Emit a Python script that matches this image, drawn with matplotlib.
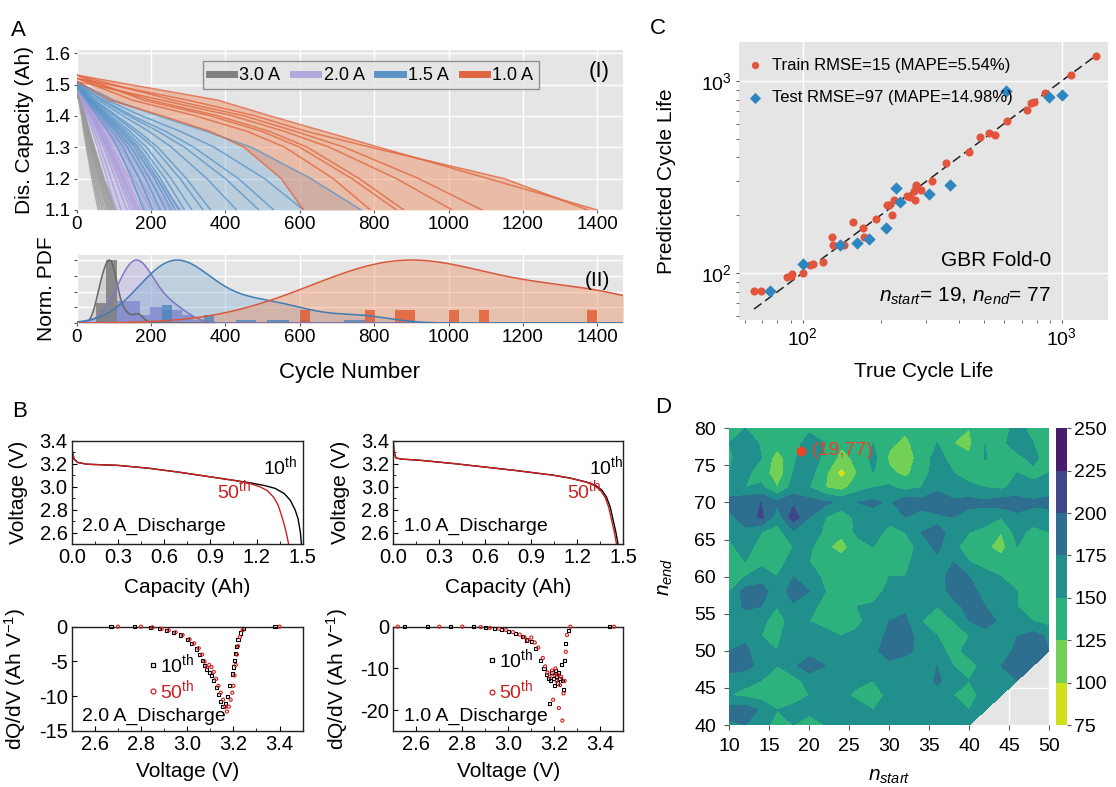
import numpy as np
import matplotlib
matplotlib.use("Agg")
import matplotlib.pyplot as plt
from matplotlib.lines import Line2D
from matplotlib.ticker import FormatStrFormatter, MultipleLocator, LogLocator, NullFormatter

plt.rcParams['font.family'] = ['Liberation Sans', 'DejaVu Sans']
plt.rcParams['mathtext.fontset'] = 'custom'
plt.rcParams['mathtext.rm'] = 'Liberation Sans'
plt.rcParams['mathtext.it'] = 'Liberation Sans:italic'
plt.rcParams['mathtext.bf'] = 'Liberation Sans:bold'
plt.rcParams['axes.unicode_minus'] = False

# ======================= Panel A data =======================
RATES = ["3.0 A", "2.0 A", "1.5 A", "1.0 A"]
CAP_LEVELS = [1.45, 1.40, 1.35, 1.30, 1.20, 1.10]   # capacity levels (Ah)

# cycle number at which each cell reaches each capacity level
START_30 = [1.47, 1.48, 1.46, 1.49, 1.47, 1.48, 1.50, 1.47, 1.49, 1.48, 1.50]
CYC_30 = [[6, 13, 19, 26, 41, 58], [6, 14, 21, 29, 45, 64], [7, 15, 23, 31, 49, 70],
          [8, 17, 25, 34, 53, 76], [8, 18, 27, 37, 57, 82], [9, 19, 28, 39, 60, 86],
          [9, 20, 30, 41, 63, 90], [9, 21, 31, 42, 66, 94], [10, 22, 32, 44, 69, 98],
          [10, 22, 34, 46, 71, 102], [11, 23, 35, 48, 74, 106]]

START_20 = [1.49, 1.50, 1.48, 1.50, 1.49, 1.48, 1.50, 1.49, 1.50, 1.48, 1.50, 1.49, 1.50, 1.49]
CYC_20 = [[13, 27, 42, 56, 81, 105], [14, 31, 48, 64, 92, 120], [16, 35, 54, 72, 104, 135],
          [17, 38, 58, 77, 112, 145], [18, 40, 61, 81, 117, 152], [19, 41, 63, 84, 122, 158],
          [20, 42, 65, 86, 126, 163], [20, 44, 67, 89, 129, 168], [21, 46, 70, 93, 135, 175],
          [22, 48, 74, 98, 142, 185], [24, 52, 80, 106, 154, 200], [26, 57, 88, 117, 169, 220],
          [30, 65, 100, 133, 193, 250], [34, 73, 112, 148, 216, 280]]

START_15 = [1.49, 1.50, 1.51, 1.50, 1.49, 1.50, 1.51, 1.50, 1.49, 1.51, 1.50, 1.50, 1.51, 1.50, 1.51, 1.51]
CYC_15 = [[25, 55, 85, 110, 148, 180], [28, 62, 95, 125, 168, 205], [30, 68, 104, 137, 185, 225],
          [32, 72, 110, 146, 197, 240], [34, 76, 117, 155, 209, 255], [36, 80, 122, 161, 217, 265],
          [37, 83, 127, 167, 225, 275], [39, 87, 134, 176, 238, 290], [42, 93, 143, 188, 254, 310],
          [46, 102, 156, 206, 278, 340], [49, 108, 166, 218, 295, 360], [58, 125, 195, 255, 350, 430],
          [66, 140, 220, 290, 400, 490], [72, 150, 240, 315, 435, 530], [82, 175, 280, 370, 505, 610],
          [100, 220, 350, 470, 630, 765]]

START_10 = [1.51, 1.52, 1.53, 1.52, 1.51, 1.53, 1.52, 1.53]
CYC_10 = [[90, 230, 360, 450, 550, 610], [150, 320, 460, 560, 690, 790],
          [180, 360, 500, 600, 740, 860], [200, 380, 520, 620, 760, 880],
          [230, 420, 560, 680, 860, 1010], [260, 450, 590, 720, 920, 1090],
          [300, 480, 620, 790, 1150, 1375], [380, 520, 667, 813, 1107, 1400]]

# lifetimes (cycles to 1.1 Ah) used for the kernel density curves
LIFE = {"3.0 A": [58, 64, 70, 76, 82, 86, 90, 94, 98, 102, 106, 130, 165],
        "2.0 A": [105, 120, 135, 145, 152, 158, 163, 168, 175, 185, 200, 220, 250, 280],
        "1.5 A": [180, 205, 225, 240, 255, 265, 275, 290, 310, 340, 360, 430, 490, 530, 610, 765],
        "1.0 A": [610, 790, 860, 880, 1010, 1090, 1375, 1400]}
KDE_BW = {"3.0 A": 14, "2.0 A": 38, "1.5 A": 80, "1.0 A": 190}

# histogram bars: (left, right, normalised height)
HIST = {"3.0 A": [(53, 78, 0.32), (78, 109, 1.0)],
        "2.0 A": [(109, 170, 0.35), (170, 198, 0.12), (198, 230, 0.25), (230, 257, 0.2),
                  (257, 284, 0.2), (284, 314, 0.13), (314, 342, 0.04)],
        "1.5 A": [(230, 257, 0.28), (343, 370, 0.13), (429, 483, 0.05), (513, 570, 0.05),
                  (600, 628, 0.05), (720, 780, 0.05)],
        "1.0 A": [(600, 628, 0.2), (775, 802, 0.2), (855, 910, 0.2), (1000, 1027, 0.2),
                  (1082, 1109, 0.2), (1373, 1400, 0.2)]}

LINE_C = {"3.0 A": "#9a9a9a", "2.0 A": "#ab9ddb", "1.5 A": "#5b95c8", "1.0 A": "#e2673f"}
LEG_C = {"3.0 A": "#808080", "2.0 A": "#b3a8de", "1.5 A": "#5b93c5", "1.0 A": "#e0663f"}
FILL_C = {"3.0 A": "#a8a8a8", "2.0 A": "#b4a8e2", "1.5 A": "#74a6d2", "1.0 A": "#ee8a5e"}
FILL_A = {"3.0 A": 0.35, "2.0 A": 0.45, "1.5 A": 0.38, "1.0 A": 0.45}
PDF_LINE = {"3.0 A": "#666666", "2.0 A": "#7f76c2", "1.5 A": "#3e7db3", "1.0 A": "#d9573a"}
HIST_C = {"3.0 A": "#777777", "2.0 A": "#8088cc", "1.5 A": "#4a86bb", "1.0 A": "#e05a30"}
CURVES = {"3.0 A": (START_30, CYC_30), "2.0 A": (START_20, CYC_20),
          "1.5 A": (START_15, CYC_15), "1.0 A": (START_10, CYC_10)}

# ======================= Panel B data =======================
CAP_10_2A = [0.0, 0.005, 0.015, 0.04, 0.1, 0.3, 0.5, 0.7, 0.9, 1.05, 1.15, 1.25, 1.32, 1.38, 1.42, 1.45, 1.47, 1.485, 1.492]
V_10_2A = [3.38, 3.30, 3.24, 3.21, 3.195, 3.185, 3.16, 3.125, 3.085, 3.055, 3.035, 3.01, 2.985, 2.94, 2.88, 2.80, 2.72, 2.60, 2.49]
CAP_50_2A = [0.0, 0.005, 0.015, 0.04, 0.1, 0.3, 0.5, 0.7, 0.9, 1.05, 1.15, 1.22, 1.27, 1.31, 1.34, 1.36, 1.38, 1.398, 1.41]
V_50_2A = [3.38, 3.30, 3.24, 3.21, 3.195, 3.185, 3.16, 3.125, 3.085, 3.055, 3.03, 3.00, 2.965, 2.91, 2.84, 2.76, 2.67, 2.57, 2.49]
CAP_10_1A = [0.0, 0.005, 0.017, 0.05, 0.17, 0.4, 0.6, 0.8, 1.04, 1.15, 1.26, 1.32, 1.36, 1.39, 1.415, 1.435, 1.452, 1.467]
V_10_1A = [3.39, 3.30, 3.25, 3.24, 3.23, 3.20, 3.17, 3.14, 3.10, 3.075, 3.04, 3.01, 2.97, 2.91, 2.82, 2.70, 2.60, 2.49]
CAP_50_1A = [0.0, 0.005, 0.017, 0.05, 0.17, 0.4, 0.6, 0.8, 1.04, 1.15, 1.255, 1.31, 1.35, 1.38, 1.405, 1.425, 1.442, 1.457]
V_50_1A = [3.39, 3.30, 3.25, 3.24, 3.23, 3.20, 3.17, 3.14, 3.10, 3.075, 3.04, 3.01, 2.97, 2.91, 2.82, 2.70, 2.60, 2.49]

DV10_2A = [2.67, 2.77, 2.84, 2.88, 2.91, 2.94, 2.97, 3.00, 3.02, 3.04, 3.055, 3.065, 3.075, 3.085, 3.095,
           3.105, 3.115, 3.125, 3.135, 3.145, 3.155, 3.165, 3.175, 3.185, 3.195, 3.20, 3.205, 3.21, 3.215,
           3.22, 3.23, 3.245, 3.38]
DQ10_2A = [0.0, 0.0, -0.1, -0.3, -0.5, -0.8, -1.2, -1.8, -2.4, -3.2, -4.0, -4.8, -5.6, -6.2, -6.6,
           -7.0, -7.8, -8.8, -9.8, -10.8, -11.5, -11.0, -10.0, -8.5, -6.8, -5.8, -4.8, -3.8, -2.8,
           -1.8, -0.9, -0.2, 0.0]
DV50_2A = [2.70, 2.80, 2.85, 2.89, 2.92, 2.95, 2.98, 3.01, 3.03, 3.05, 3.065, 3.075, 3.085, 3.095, 3.105,
           3.115, 3.125, 3.135, 3.145, 3.155, 3.165, 3.172, 3.18, 3.188, 3.195, 3.20, 3.205, 3.21, 3.215,
           3.22, 3.228, 3.24, 3.40]
DQ50_2A = [0.0, 0.0, -0.1, -0.3, -0.5, -0.8, -1.2, -1.8, -2.4, -3.1, -4.0, -5.0, -5.8, -5.5, -5.8,
           -6.5, -7.5, -8.5, -9.5, -10.5, -11.5, -12.2, -11.5, -10.5, -9.5, -8.5, -7.0, -5.5, -4.0,
           -2.8, -1.5, -0.5, 0.0]
DV10_1A = [2.55, 2.65, 2.75, 2.85, 2.90, 2.94, 2.97, 3.00, 3.03, 3.06, 3.08, 3.10, 3.12, 3.14, 3.155,
           3.165, 3.175, 3.18, 3.185, 3.19, 3.195, 3.20, 3.205, 3.21, 3.215, 3.22, 3.225, 3.23, 3.235,
           3.24, 3.245, 3.25, 3.26, 3.44]
DQ10_1A = [0, 0, 0, 0, -0.2, -0.4, -0.7, -1.1, -1.6, -2.4, -3.2, -3.6, -5.2, -8.0, -10.0,
           -11.5, -12.5, -18.5, -13.0, -11.0, -12.5, -14.0, -10.5, -12.0, -13.5, -11.0, -12.5, -9.0, -13.0,
           -15.0, -8.0, -4.0, -1.0, 0]
DV50_1A = [2.52, 2.70, 2.80, 2.88, 2.92, 2.96, 2.99, 3.02, 3.05, 3.07, 3.085, 3.10, 3.115, 3.13, 3.15,
           3.16, 3.17, 3.18, 3.19, 3.195, 3.20, 3.205, 3.21, 3.215, 3.22, 3.225, 3.23, 3.235, 3.24,
           3.245, 3.25, 3.255, 3.27, 3.46]
DQ50_1A = [0, 0, 0, -0.1, -0.3, -0.5, -0.8, -1.3, -1.9, -2.5, -3.3, -2.6, -3.8, -5.0, -7.5,
           -9.5, -11.0, -12.0, -10.5, -17.5, -11.5, -10.0, -13.0, -11.5, -19.5, -14.0, -12.0, -22.5, -16.0,
           -13.0, -6.0, -2.0, 0, 0]

# ======================= Panel C data =======================
TRAIN_TRUE = [65, 69, 87, 90, 91, 100, 107, 110, 120, 130, 131, 145, 157, 171, 172, 192, 211, 215, 221, 226,
              253, 259, 270, 273, 274, 272, 286, 315, 358, 437, 482, 522, 553, 614, 733, 760, 782, 862, 1083, 1355]
TRAIN_PRED = [81, 81, 95, 96, 99, 100, 110, 112, 114, 154, 140, 140, 184, 171, 154, 191, 227, 227, 201, 240,
              252, 248, 268, 288, 282, 240, 271, 303, 376, 429, 509, 538, 524, 622, 706, 771, 781, 869, 1075, 1349]
TEST_TRUE = [75, 100, 140, 162, 180, 209, 230, 237, 308, 369, 610, 896, 1000]
TEST_PRED = [81, 111, 140, 143, 151, 171, 277, 234, 258, 288, 887, 829, 841]
IDEAL = [65, 1350]

# ======================= Panel D data =======================
N_START = [10, 12, 14, 16, 18, 20, 22, 24, 26, 28, 30, 32, 34, 36, 38, 40, 42, 44, 46, 48, 50]
N_END_TOP_DOWN = [80, 78, 76, 74, 72, 70, 68, 66, 64, 62, 60, 58, 56, 54, 52, 50, 48, 46, 44, 42, 40]
RMSE_ROWS = [
    [145, 150, 140, 150, 138, 145, 140, 132, 150, 140, 135, 130, 150, 140, 132, 125, 148, 140, 158, 142, 150],
    [150, 160, 148, 135, 140, 160, 150, 128, 140, 150, 130, 118, 140, 150, 125, 120, 150, 145, 160, 150, 145],
    [145, 165, 150, 112, 145, 170, 140, 118, 130, 158, 120, 112, 135, 160, 140, 128, 152, 125, 145, 155, 140],
    [150, 155, 140, 108, 150, 160, 130, 90, 125, 150, 130, 118, 140, 160, 150, 140, 135, 130, 150, 145, 150],
    [160, 150, 155, 125, 160, 150, 125, 115, 140, 150, 155, 140, 150, 170, 160, 155, 150, 145, 160, 155, 160],
    [185, 195, 200, 180, 195, 185, 180, 170, 175, 180, 170, 195, 185, 190, 180, 185, 180, 190, 185, 180, 185],
    [170, 185, 205, 160, 215, 175, 150, 128, 160, 165, 160, 175, 165, 170, 175, 160, 165, 150, 170, 165, 160],
    [155, 170, 150, 140, 170, 165, 145, 130, 155, 165, 140, 150, 175, 180, 170, 150, 140, 125, 160, 140, 150],
    [145, 160, 140, 135, 150, 155, 130, 115, 140, 150, 135, 130, 165, 180, 155, 140, 130, 115, 150, 130, 145],
    [130, 150, 145, 140, 160, 150, 140, 135, 150, 140, 130, 145, 160, 170, 175, 150, 140, 135, 145, 125, 140],
    [125, 150, 160, 150, 175, 160, 145, 150, 140, 130, 150, 150, 165, 170, 180, 175, 160, 150, 140, 130, 140],
    [150, 185, 190, 155, 190, 175, 150, 145, 140, 135, 160, 165, 155, 160, 185, 180, 170, 155, 150, 140, 130],
    [160, 180, 175, 150, 170, 160, 140, 125, 150, 155, 165, 170, 160, 150, 165, 185, 175, 160, 150, 150, 125],
    [150, 160, 155, 140, 160, 150, 140, 130, 145, 160, 175, 180, 150, 140, 150, 175, 185, 170, 165, 150, 140],
    [165, 170, 150, 145, 165, 155, 160, 150, 155, 165, 180, 185, 165, 150, 140, 150, 165, 170, 175, 185, 170],
    [175, 180, 160, 150, 175, 165, 170, 165, 160, 170, 185, 180, 170, 155, 145, 155, 160, 165, 180, 190, 175],
    [190, 185, 165, 150, 170, 190, 175, 165, 155, 160, 170, 165, 160, 175, 150, 145, 155, 175, 190, 185, 170],
    [160, 155, 150, 130, 140, 160, 165, 170, 155, 150, 165, 170, 160, 180, 160, 150, 160, 170, 175, 160, 165],
    [150, 145, 140, 125, 135, 150, 160, 155, 145, 140, 155, 165, 175, 165, 150, 145, 155, 160, 170, 165, 160],
    [185, 190, 170, 150, 160, 155, 165, 175, 160, 150, 160, 170, 165, 155, 175, 150, 155, 160, 165, 160, 155],
    [170, 175, 160, 140, 150, 140, 150, 160, 165, 155, 150, 160, 155, 150, 170, 155, 150, 160, 150, 160, 155],
]
LEVELS_D = [75, 100, 125, 150, 175, 200, 225, 250]
BEST = (19, 77)

# ======================= Figure =======================
W, H = 1116, 787
fig = plt.figure(figsize=(W / 100, H / 100), dpi=100)


def ax_px(l, t, r, b):
    return fig.add_axes([l / W, 1 - b / H, (r - l) / W, (b - t) / H])


BG = "#e5e5e5"


def gg_style(ax, fs=13.5, pad=2):
    ax.set_facecolor(BG)
    for s in ax.spines.values():
        s.set_visible(False)
    ax.grid(True, color="white", lw=1.0)
    ax.set_axisbelow(True)
    ax.tick_params(length=2.5, color="#555555", labelsize=fs, pad=pad)


# ---------- A(I) ----------
axA1 = ax_px(76.7, 50, 623.3, 210)
gg_style(axA1)
for r in RATES:
    starts, cyc = CURVES[r]
    cyc_a = np.array(cyc, float)
    y_env = np.array([max(starts)] + CAP_LEVELS)
    x_lo = np.concatenate([[0], cyc_a.min(axis=0)])
    x_hi = np.concatenate([[0], cyc_a.max(axis=0)])
    axA1.fill_betweenx(y_env, x_lo, x_hi, color=FILL_C[r], alpha=FILL_A[r], lw=0)
    for s, row in zip(starts, cyc):
        axA1.plot([0] + list(row), [s] + CAP_LEVELS, color=LINE_C[r], lw=1.1, alpha=0.8)
axA1.set_xlim(0, 1470)
axA1.set_ylim(1.1, 1.61)
axA1.xaxis.set_major_locator(MultipleLocator(200))
axA1.yaxis.set_major_locator(MultipleLocator(0.1))
axA1.yaxis.set_major_formatter(FormatStrFormatter('%.1f'))
axA1.set_ylabel("Dis. Capacity (Ah)", fontsize=15)
axA1.yaxis.set_label_coords(-0.078, 0.5)
handles = [Line2D([], [], color=LEG_C[r], lw=5) for r in RATES]
leg = axA1.legend(handles, RATES, ncol=4, loc="upper left", bbox_to_anchor=(0.215, 0.985),
                  fontsize=13, handlelength=1.4, handletextpad=0.3, columnspacing=0.7,
                  borderpad=0.3, frameon=True, fancybox=False)
leg.get_frame().set_facecolor(BG)
leg.get_frame().set_edgecolor("#7a7a7a")
leg.get_frame().set_linewidth(1.0)
axA1.text(0.975, 0.865, "(I)", transform=axA1.transAxes, ha="right", va="center", fontsize=16)

# ---------- A(II) ----------
axA2 = ax_px(76.7, 255, 623.3, 323)
gg_style(axA2)
grid_x = np.linspace(0, 1470, 800)
pdfs = {}
for r in RATES:
    d = np.asarray(LIFE[r], float)[:, None]
    k = np.exp(-0.5 * ((grid_x[None, :] - d) / KDE_BW[r]) ** 2).sum(axis=0)
    pdfs[r] = k / k.max()
    axA2.fill_between(grid_x, 0, pdfs[r], color=FILL_C[r], alpha=FILL_A[r] * 0.9, lw=0)
for r in RATES:
    bars = HIST[r]
    axA2.bar([b[0] for b in bars], [b[2] for b in bars], width=[b[1] - b[0] for b in bars],
             align="edge", color=HIST_C[r], alpha=0.8, lw=0)
for r in RATES:
    axA2.plot(grid_x, pdfs[r], color=PDF_LINE[r], lw=1.1)
axA2.set_xlim(0, 1470)
axA2.set_ylim(0, 1.08)
axA2.xaxis.set_major_locator(MultipleLocator(200))
axA2.yaxis.set_major_locator(MultipleLocator(0.25))
axA2.yaxis.set_major_formatter(NullFormatter())
axA2.set_ylabel("Norm. PDF", fontsize=15)
axA2.yaxis.set_label_coords(-0.038, 0.5)
axA2.set_xlabel("Cycle Number", fontsize=16)
axA2.xaxis.set_label_coords(0.5, -0.58)
axA2.text(0.975, 0.62, "(II)", transform=axA2.transAxes, ha="right", va="center", fontsize=15)

# ---------- C ----------
axC = ax_px(739.3, 41.7, 1108, 320)
gg_style(axC, fs=14, pad=3)
axC.set_xscale("log")
axC.set_yscale("log")
axC.plot(IDEAL, IDEAL, ls=(0, (6, 3)), color="#222222", lw=1.1, zorder=2)
axC.scatter(TRAIN_TRUE, TRAIN_PRED, s=34, marker="o", color="#e2543c", lw=0, zorder=3,
            label="Train RMSE=15 (MAPE=5.54%)")
axC.scatter(TEST_TRUE, TEST_PRED, s=40, marker="D", color="#2e86c1", lw=0, zorder=3,
            label="Test RMSE=97 (MAPE=14.98%)")
axC.set_xlim(57, 1508)
axC.set_ylim(57, 1600)
axC.xaxis.set_major_locator(LogLocator(base=10, numticks=5))
axC.yaxis.set_major_locator(LogLocator(base=10, numticks=5))
axC.xaxis.set_minor_locator(LogLocator(base=10, subs=np.arange(2, 10), numticks=10))
axC.yaxis.set_minor_locator(LogLocator(base=10, subs=np.arange(2, 10), numticks=10))
axC.xaxis.set_minor_formatter(NullFormatter())
axC.yaxis.set_minor_formatter(NullFormatter())
axC.tick_params(which="minor", length=2, color="#555555")
axC.grid(False, which="minor")
axC.grid(True, which="major", color="white", lw=1.0)
axC.legend(loc="upper left", bbox_to_anchor=(-0.035, 0.985), frameon=False, fontsize=12,
           handletextpad=0.05, borderaxespad=0.3, labelspacing=1.05, markerscale=0.9)
axC.set_xlabel("True Cycle Life", fontsize=15)
axC.xaxis.set_label_coords(0.5, -0.15)
axC.set_ylabel("Predicted Cycle Life", fontsize=15)
axC.yaxis.set_label_coords(-0.172, 0.5)
axC.text(0.845, 0.215, "GBR Fold-0", transform=axC.transAxes, ha="right", va="center", fontsize=15)
axC.text(0.845, 0.085, "$n_{start}$= 19, $n_{end}$= 77", transform=axC.transAxes,
         ha="right", va="center", fontsize=15)

# ---------- B ----------
RED = "#cc2020"


def b_style(ax):
    for s in ax.spines.values():
        s.set_color("#222222")
        s.set_linewidth(1.0)
    ax.tick_params(which="both", direction="in", labelsize=14.5, pad=3)
    ax.tick_params(which="major", length=3.5)
    ax.tick_params(which="minor", length=2)


def b_top(ax, cap10, v10, cap50, v50, label, x10, x50):
    b_style(ax)
    ax.plot(cap10, v10, color="black", lw=1.0)
    ax.plot(cap50, v50, color=RED, lw=1.0)
    ax.set_xlim(0, 1.5)
    ax.set_ylim(2.5, 3.4)
    ax.xaxis.set_major_locator(MultipleLocator(0.3))
    ax.xaxis.set_minor_locator(MultipleLocator(0.15))
    ax.yaxis.set_major_locator(MultipleLocator(0.2))
    ax.yaxis.set_minor_locator(MultipleLocator(0.1))
    ax.xaxis.set_major_formatter(FormatStrFormatter('%.1f'))
    ax.yaxis.set_major_formatter(FormatStrFormatter('%.1f'))
    ax.set_xlabel("Capacity (Ah)", fontsize=15)
    ax.xaxis.set_label_coords(0.5, -0.33)
    ax.set_ylabel("Voltage (V)", fontsize=15)
    ax.yaxis.set_label_coords(-0.19, 0.5)
    ax.text(x10, 0.75, "10$^{\\rm th}$", transform=ax.transAxes, fontsize=14, va="center", color="black")
    ax.text(x50, 0.52, "50$^{\\rm th}$", transform=ax.transAxes, fontsize=14, va="center", color=RED)
    ax.text(0.045, 0.17, label, transform=ax.transAxes, fontsize=14, va="center")


def b_bot(ax, dv10, dq10, dv50, dq50, label, ylim, ystep, leg_xy, spacing):
    b_style(ax)
    ax.scatter(dv10, dq10, s=5, marker="s", facecolors="none", edgecolors="black", lw=0.8, clip_on=False, zorder=3)
    ax.scatter(dv50, dq50, s=5, marker="o", facecolors="none", edgecolors=RED, lw=0.8, clip_on=False, zorder=3)
    ax.set_xlim(2.5, 3.5)
    ax.set_ylim(*ylim)
    ax.xaxis.set_major_locator(MultipleLocator(0.2))
    ax.xaxis.set_minor_locator(MultipleLocator(0.1))
    ax.yaxis.set_major_locator(MultipleLocator(ystep))
    ax.xaxis.set_major_formatter(FormatStrFormatter('%.1f'))
    ax.set_xlabel("Voltage (V)", fontsize=15)
    ax.xaxis.set_label_coords(0.5, -0.3)
    ax.set_ylabel("dQ/dV (Ah V$^{-1}$)", fontsize=15)
    ax.yaxis.set_label_coords(-0.19, 0.5)
    h = [Line2D([], [], ls="none", marker="s", mfc="none", mec="black", ms=3.5, mew=0.9),
         Line2D([], [], ls="none", marker="o", mfc="none", mec=RED, ms=3.5, mew=0.9)]
    ax.legend(h, ["10$^{\\rm th}$", "50$^{\\rm th}$"], loc="center left", bbox_to_anchor=leg_xy,
              frameon=False, fontsize=14, handlelength=0.5, handletextpad=0.1, labelspacing=spacing,
              borderpad=0, borderaxespad=0, labelcolor=["black", RED])
    ax.text(0.045, 0.14, label, transform=ax.transAxes, fontsize=14, va="center")


axB1 = ax_px(71.7, 440.7, 302.7, 544)
b_top(axB1, CAP_10_2A, V_10_2A, CAP_50_2A, V_50_2A, "2.0 A_Discharge", 0.83, 0.63)
axB2 = ax_px(393.3, 440.7, 623.3, 544)
b_top(axB2, CAP_10_1A, V_10_1A, CAP_50_1A, V_50_1A, "1.0 A_Discharge", 0.85, 0.755)
axB3 = ax_px(71.7, 626.7, 302.7, 731)
b_bot(axB3, DV10_2A, DQ10_2A, DV50_2A, DQ50_2A, "2.0 A_Discharge", (-15, 0), 5, (0.33, 0.52), 0.1)
axB4 = ax_px(393.3, 626.7, 623.3, 731)
b_bot(axB4, DV10_1A, DQ10_1A, DV50_1A, DQ50_1A, "1.0 A_Discharge", (-25, 0), 10, (0.41, 0.54), 0.4)

# ---------- D ----------
axD = ax_px(729.3, 428.3, 1049.3, 725)
gg_style(axD, fs=14, pad=6)
axD.tick_params(length=3.5)
ns = np.array(N_START, float)
ne = np.array(N_END_TOP_DOWN, float)[::-1]
Z = np.array(RMSE_ROWS, float)[::-1]
NS, NE = np.meshgrid(ns, ne)
Zm = np.ma.masked_where(NE < NS, Z)
cf = axD.contourf(NS, NE, Zm, levels=LEVELS_D, cmap="viridis_r", zorder=1)
axD.plot([BEST[0]], [BEST[1]], "o", color="#e8432a", ms=6, zorder=4)
axD.text(BEST[0] + 1.3, BEST[1], "(19,77)", color="#e8432a", fontsize=14, va="center", zorder=4)
axD.set_xlim(10, 50)
axD.set_ylim(40, 80)
axD.xaxis.set_major_locator(MultipleLocator(5))
axD.yaxis.set_major_locator(MultipleLocator(5))
axD.set_xlabel("$n_{start}$", fontsize=15)
axD.xaxis.set_label_coords(0.5, -0.14)
axD.set_ylabel("$n_{end}$", fontsize=15)
axD.yaxis.set_label_coords(-0.17, 0.5)

cax = ax_px(1056, 428.3, 1067.3, 725)
cb = fig.colorbar(cf, cax=cax, ticks=LEVELS_D)
cb.outline.set_visible(False)
cax.tick_params(length=3, labelsize=14, color="#555555", pad=2)

# ---------- panel letters ----------
for letter, x, y in [("A", 11, 20), ("B", 12, 401), ("C", 650, 18), ("D", 655, 397)]:
    fig.text(x / W, 1 - y / H, letter, fontsize=16, ha="left", va="top")

fig.savefig("out.png", dpi=100)
